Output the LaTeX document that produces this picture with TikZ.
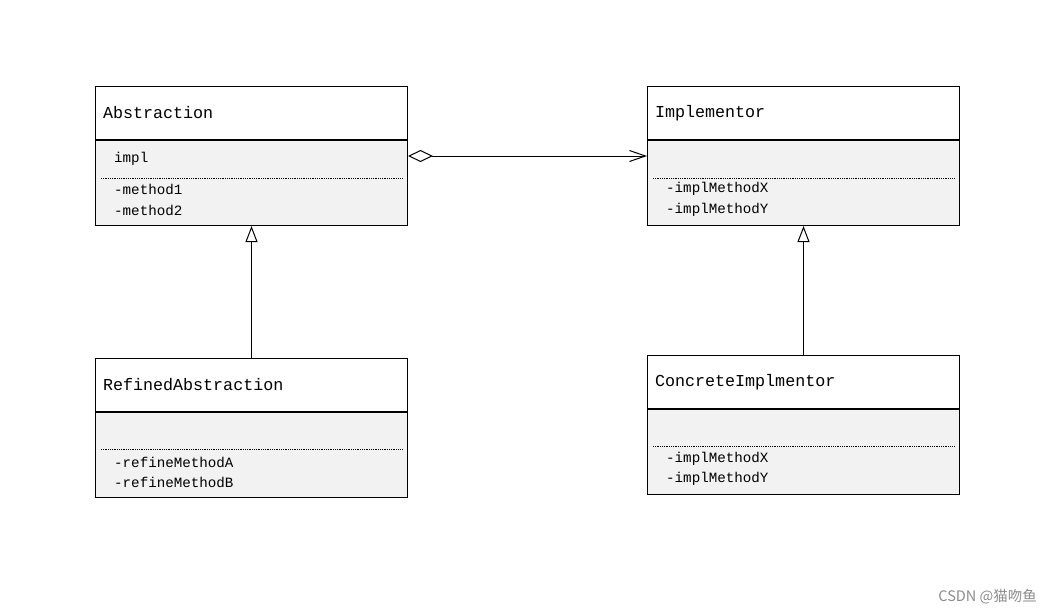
\documentclass[tikz,border=0pt]{standalone}
\usepackage{fontspec}
\setmonofont{Liberation Mono}
\newfontfamily\cjkfont{Noto Sans CJK SC}
\usepackage{tikz}
\usetikzlibrary{arrows.meta, positioning}

\definecolor{bodygray}{HTML}{F2F2F2}
\definecolor{markgray}{HTML}{8C8C8C}

\tikzset{
  classhead/.style={draw, fill=white, line width=1pt, anchor=north west,
    minimum width=312pt, minimum height=53pt, text width=297pt,
    inner xsep=7.5pt, align=left, font=\ttfamily\fontsize{16.7}{18}\selectfont},
  classbody/.style={draw, fill=bodygray, line width=1pt, anchor=north,
    minimum width=312pt, minimum height=85pt, inner sep=0pt},
  member/.style={anchor=west, inner sep=0pt,
    font=\ttfamily\fontsize{14.2}{16}\selectfont},
  sepline/.style={densely dotted, line width=0.8pt},
  aggr/.style={line width=1pt, {Diamond[open, length=25pt, width=12pt]}-{Straight Barb[length=16pt, width=11pt]}},
  inherit/.style={line width=1pt, -{Triangle[open, length=16pt, width=12pt]}}
}

\begin{document}
\begin{tikzpicture}[x=1pt, y=-1pt]
  \useasboundingbox (0,0) rectangle (1052,614);

  %% *** Abstraction ***
  \node [classhead] (abs) at (95,86) {Abstraction};
  \node [classbody] (absb) at (abs.south) {};
  \node [member] (absimpl) at ([shift={(19,19)}]absb.north west) {impl};
  \draw [sepline] ([shift={(6,38)}]absb.north west) -- ([shift={(-6,38)}]absb.north east);
  \node [member] (absm1) at ([shift={(19,49)}]absb.north west) {-method1};
  \node [member] (absm2) at ([shift={(19,70)}]absb.north west) {-method2};

  %% *** Implementor ***
  \node [classhead] (imp) at (647,86) {Implementor};
  \node [classbody] (impb) at (imp.south) {};
  \draw [sepline] ([shift={(6,38)}]impb.north west) -- ([shift={(-6,38)}]impb.north east);
  \node [member] (impm1) at ([shift={(19,49)}]impb.north west) {-implMethodX};
  \node [member] (impm2) at ([shift={(19,70)}]impb.north west) {-implMethodY};

  %% *** RefinedAbstraction ***
  \node [classhead] (ref) at (95,358) {RefinedAbstraction};
  \node [classbody] (refb) at (ref.south) {};
  \draw [sepline] ([shift={(6,37)}]refb.north west) -- ([shift={(-6,37)}]refb.north east);
  \node [member] (refm1) at ([shift={(19,50)}]refb.north west) {-refineMethodA};
  \node [member] (refm2) at ([shift={(19,70)}]refb.north west) {-refineMethodB};

  %% *** ConcreteImplmentor ***
  \node [classhead] (con) at (647,355) {ConcreteImplmentor};
  \node [classbody] (conb) at (con.south) {};
  \draw [sepline] ([shift={(6,37)}]conb.north west) -- ([shift={(-6,37)}]conb.north east);
  \node [member] (conm1) at ([shift={(19,50)}]conb.north west) {-implMethodX};
  \node [member] (conm2) at ([shift={(19,70)}]conb.north west) {-implMethodY};

  %% *** Relations ***
  \draw [aggr] ([shift={(0,16)}]absb.north east) -- ([shift={(0,16)}]impb.north west);
  \draw [inherit] (ref.north) -- (absb.south);
  \draw [inherit] (con.north) -- (impb.south);

  \node [anchor=east, text=markgray, inner sep=0pt,
    font=\cjkfont\fontsize{14.5}{16}\selectfont] (mark) at (1037,597) {CSDN @猫吻鱼};
\end{tikzpicture}
\end{document}
